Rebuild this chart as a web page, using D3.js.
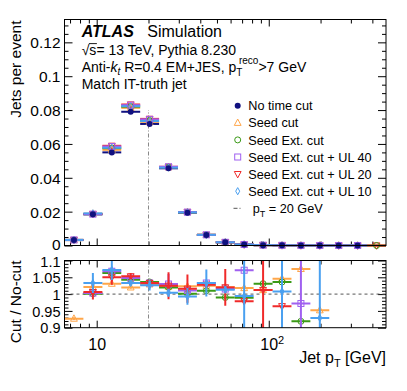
<!DOCTYPE html>
<html lang="en">
<head>
<meta charset="UTF-8">
<title>Jets per event vs jet pT</title>
<script src="https://d3js.org/d3.v7.min.js"></script>
<style>
  body { margin: 0; background: #fff; }
  svg { display: block; font-family: "Liberation Sans", Arial, sans-serif; }
</style>
</head>
<body>
<svg id="chart" width="407" height="391"></svg>
<script>
// bin edges in jet pT [GeV]
const binEdges = [6.5, 8.37, 10.79, 13.89, 17.89, 23.04, 29.68, 38.22, 49.23, 63.41,
                  81.66, 105.2, 135.5, 174.5, 224.7, 289.4, 372.8, 480.1];

const seriesNames = ["No time cut", "Seed cut", "Seed Ext. cut",
                     "Seed Ext. cut + UL 40", "Seed Ext. cut + UL 20", "Seed Ext. cut + UL 10"];

// jets per event, one value per bin
const jetsNoCut   = [0.0032, 0.0184, 0.0550, 0.0790, 0.0718, 0.0456, 0.0194, 0.0062, 0.0019, 0.0006, 0.0002, 0.0001, 0.00005, 0.00002, 0.00001, 0.000005, null];
const jetsSeedCut = [0.0032, 0.0188, 0.0565, 0.0813, 0.0730, 0.0462, 0.0197, 0.0063, 0.0019, 0.0006, 0.0002, 0.0001, 0.00005, 0.00002, 0.00001, 0.000005, null];
const jetsSeedExt = [0.0033, 0.0185, 0.0575, 0.0820, 0.0738, 0.0463, 0.0196, 0.0063, 0.0019, 0.0006, 0.0002, 0.0001, 0.00005, 0.00002, 0.00001, 0.000005, 0.000004];
const jetsUL40    = [0.0033, 0.0185, 0.0585, 0.0829, 0.0745, 0.0465, 0.0197, 0.0063, 0.0019, 0.0006, 0.0002, 0.0001, 0.00005, 0.00002, 0.00001, 0.000005, null];
const jetsUL20    = [0.0033, 0.0186, 0.0589, 0.0833, 0.0748, 0.0465, 0.0198, 0.0063, 0.0019, 0.0006, 0.0002, 0.0001, 0.00005, 0.00002, 0.00001, 0.000005, 0.000004];
const jetsUL10    = [0.0033, 0.0190, 0.0577, 0.0823, 0.0735, 0.0460, 0.0196, 0.0063, 0.0019, 0.0006, 0.0002, 0.0001, 0.00005, 0.00002, 0.00001, 0.000005, null];

// ratio to "No time cut" and its uncertainty
const ratioSeedCut = [0.927, 1.021, 1.031, 1.020, 1.029, 1.022, 1.023, 1.025, 1.021, 1.018, 1.012, 1.046, 1.075, 0.952, null, null, null];
const errSeedCut   = [0.004, 0.004, 0.004, 0.004, 0.004, 0.004, 0.004, 0.004, 0.004, 0.004, 0.004, 0.004, 0.004, 0.004, null, null, null];
const ratioSeedExt = [null, 1.001, 1.063, 1.043, 1.036, 1.020, 1.001, 1.010, 0.990, 0.989, 1.031, 1.036, 0.919, null, null, null, null];
const errSeedExt   = [null, 0.005, 0.005, 0.005, 0.005, 0.005, 0.005, 0.005, 0.005, 0.005, 0.005, 0.005, 0.005, null, null, null, null];
const ratioUL40    = [null, 1.003, 1.068, 1.048, 1.033, 1.030, 1.011, 1.033, 1.015, 1.071, null, null, 0.972, null, null, null, null];
const errUL40      = [null, 0.008, 0.008, 0.006, 0.006, 0.030, 0.010, 0.010, 0.010, 0.010, null, null, 0.300, null, null, null, null];
const ratioUL20    = [null, 1.006, 1.050, 1.053, 1.033, 1.025, 1.016, 1.028, 1.020, 0.979, 1.012, 0.964, null, null, null, null, null];
const errUL20      = [null, 0.022, 0.022, 0.010, 0.008, 0.040, 0.042, 0.010, 0.055, 0.010, 0.300, 0.008, null, null, null, null, null];
const ratioUL10    = [null, 1.033, 1.072, 1.033, 1.026, 1.004, 0.993, 1.033, 1.013, 0.994, null, 1.008, null, 0.929, null, null, null];
const errUL10      = [null, 0.030, 0.030, 0.008, 0.015, 0.012, 0.025, 0.040, 0.010, 0.300, null, 0.300, null, 0.300, null, null, null];

const yTicksMain  = [0, 0.02, 0.04, 0.06, 0.08, 0.1, 0.12];
const yTicksRatio = [0.9, 0.95, 1, 1.05, 1.1];
const xTickLabels = [10, 100];
const xMinorTicks = [7, 8, 9, 20, 30, 40, 50, 60, 70, 80, 90, 200, 300, 400];
const ptCut = 20;

const series = [
  { name: seriesNames[0], values: jetsNoCut,   ratio: null,         err: null,       color: "#10107f", marker: "dot" },
  { name: seriesNames[1], values: jetsSeedCut, ratio: ratioSeedCut, err: errSeedCut, color: "#ffa64a", marker: "triangle" },
  { name: seriesNames[2], values: jetsSeedExt, ratio: ratioSeedExt, err: errSeedExt, color: "#3a9a16", marker: "circle" },
  { name: seriesNames[3], values: jetsUL40,    ratio: ratioUL40,    err: errUL40,    color: "#a060f0", marker: "square" },
  { name: seriesNames[4], values: jetsUL20,    ratio: ratioUL20,    err: errUL20,    color: "#f02a2a", marker: "triangleDown" },
  { name: seriesNames[5], values: jetsUL10,    ratio: ratioUL10,    err: errUL10,    color: "#4aa0f0", marker: "diamond" }
];

const frameL = 64.5, frameR = 386;
const mainTop = 19.5, mainBot = 245.5;
const ratTop = 260.5, ratBot = 327.7;

const svg = d3.select("#chart");
svg.append("rect").attr("width", 407).attr("height", 391).attr("fill", "#fff");

const x = d3.scaleLog()
  .domain([binEdges[0], binEdges[binEdges.length - 1]])
  .range([frameL, frameR]);
const yMain = d3.scaleLinear().domain([0, 0.1335]).range([mainBot, mainTop]);
const yRatio = d3.scaleLinear().domain([0.9, 1.1]).range([ratBot, ratTop]);

const centre = i => Math.sqrt(binEdges[i] * binEdges[i + 1]);

function drawMarker(g, type, cx, cy, color) {
  if (type === "dot") {
    g.append("circle").attr("cx", cx).attr("cy", cy).attr("r", 3).attr("fill", color);
  } else if (type === "circle") {
    g.append("circle").attr("cx", cx).attr("cy", cy).attr("r", 3)
      .attr("fill", "none").attr("stroke", color).attr("stroke-width", 1);
  } else if (type === "square") {
    g.append("rect").attr("x", cx - 3).attr("y", cy - 3).attr("width", 6).attr("height", 6)
      .attr("fill", "none").attr("stroke", color).attr("stroke-width", 1);
  } else {
    let p;
    if (type === "triangle") p = [[cx, cy - 3.8], [cx + 3.4, cy + 2.6], [cx - 3.4, cy + 2.6]];
    else if (type === "triangleDown") p = [[cx, cy + 3.8], [cx + 3.4, cy - 2.6], [cx - 3.4, cy - 2.6]];
    else p = [[cx, cy - 3.6], [cx + 2, cy], [cx, cy + 3.6], [cx - 2, cy]];
    g.append("path").attr("d", "M" + p.join("L") + "Z")
      .attr("fill", "none").attr("stroke", color).attr("stroke-width", 1);
  }
}

// ---------- axes ----------
function styleAxis(sel, fontSize) {
  sel.select(".domain").remove();
  sel.selectAll("line").attr("stroke", "#000").attr("stroke-width", 1);
  sel.attr("font-family", null).attr("font-size", fontSize);
  sel.selectAll("text").attr("fill", "#000");
}

function yAxes(scale, majors, minors, fmt, fontSize, labelShift) {
  const g = svg.append("g");
  g.append("g").attr("transform", `translate(${frameL},0)`)
    .call(d3.axisLeft(scale).tickValues(majors).tickSize(-8).tickPadding(4).tickFormat(fmt))
    .call(s => styleAxis(s, fontSize))
    .call(s => s.selectAll(".tick text").attr("y", labelShift));
  g.append("g").attr("transform", `translate(${frameL},0)`)
    .call(d3.axisLeft(scale).tickValues(minors).tickSize(-4).tickFormat(""))
    .call(s => styleAxis(s, fontSize));
  g.append("g").attr("transform", `translate(${frameR},0)`)
    .call(d3.axisRight(scale).tickValues(majors).tickSize(-8).tickFormat(""))
    .call(s => styleAxis(s, fontSize));
  g.append("g").attr("transform", `translate(${frameR},0)`)
    .call(d3.axisRight(scale).tickValues(minors).tickSize(-4).tickFormat(""))
    .call(s => styleAxis(s, fontSize));
}

function xAxes(y0, y1, withLabels) {
  const g = svg.append("g");
  const bottom = g.append("g").attr("transform", `translate(0,${y1})`)
    .call(d3.axisBottom(x).tickValues(xTickLabels).tickSize(-7).tickPadding(11)
      .tickFormat(d => withLabels ? "10" : ""))
    .call(s => styleAxis(s, 16));
  if (withLabels) {
    bottom.selectAll(".tick text")
      .attr("dx", d => d === 100 ? 3 : 0)
      .filter(d => d === 100)
      .append("tspan").attr("font-size", 11).attr("dy", "-0.55em").text("2");
  }
  g.append("g").attr("transform", `translate(0,${y1})`)
    .call(d3.axisBottom(x).tickValues(xMinorTicks).tickSize(-4).tickFormat(""))
    .call(s => styleAxis(s, 16));
  g.append("g").attr("transform", `translate(0,${y0})`)
    .call(d3.axisTop(x).tickValues(xTickLabels).tickSize(-7).tickFormat(""))
    .call(s => styleAxis(s, 16));
  g.append("g").attr("transform", `translate(0,${y0})`)
    .call(d3.axisTop(x).tickValues(xMinorTicks).tickSize(-4).tickFormat(""))
    .call(s => styleAxis(s, 16));
}

const fmtTick = d => String(+d.toFixed(2));
yAxes(yMain, yTicksMain, d3.range(0, 0.1335, 0.005).filter(v => !yTicksMain.some(t => Math.abs(t - v) < 1e-9)), fmtTick,
  15.5, d => d === 0 ? -1 : 0.5);
yAxes(yRatio, yTicksRatio, d3.range(0.9, 1.1001, 0.01).filter(v => !yTicksRatio.some(t => Math.abs(t - v) < 1e-9)), fmtTick,
  14.5, d => d === 1.1 ? 1.2 : 0.5);
xAxes(mainTop, mainBot, false);
xAxes(ratTop, ratBot, true);

// ---------- main panel ----------
const mainG = svg.append("g");
mainG.append("line")
  .attr("x1", x(ptCut)).attr("x2", x(ptCut))
  .attr("y1", yMain(0)).attr("y2", yMain(0.08))
  .attr("stroke", "#888").attr("stroke-width", 1).attr("stroke-dasharray", "4,2,1,2");

const linesOrder = [0, 1, 2, 4, 3, 5];
const markersOrder = [4, 1, 2, 5, 3, 0];
linesOrder.forEach(k => {
  const s = series[k];
  const pts = s.values.map((v, i) => ({ v, i })).filter(d => d.v != null);
  mainG.append("g").selectAll("line").data(pts).join("line")
    .attr("x1", d => x(binEdges[d.i])).attr("x2", d => x(binEdges[d.i + 1]))
    .attr("y1", d => yMain(d.v)).attr("y2", d => yMain(d.v))
    .attr("stroke", s.color).attr("stroke-width", 2);
});
markersOrder.forEach(k => {
  const s = series[k];
  const g = mainG.append("g");
  s.values.forEach((v, i) => {
    if (v != null) drawMarker(g, s.marker, x(centre(i)), yMain(v), s.color);
  });
});

// ---------- ratio panel ----------
svg.append("clipPath").attr("id", "ratioClip").append("rect")
  .attr("x", frameL).attr("y", ratTop).attr("width", frameR - frameL).attr("height", ratBot - ratTop);
const ratG = svg.append("g").attr("clip-path", "url(#ratioClip)");
ratG.append("line")
  .attr("x1", frameL).attr("x2", frameR).attr("y1", yRatio(1)).attr("y2", yRatio(1))
  .attr("stroke", "#555").attr("stroke-width", 1).attr("stroke-dasharray", "3,3");
ratG.append("line")
  .attr("x1", x(ptCut)).attr("x2", x(ptCut)).attr("y1", ratTop).attr("y2", ratBot)
  .attr("stroke", "#888").attr("stroke-width", 1).attr("stroke-dasharray", "4,2,1,2");

series.slice(1).forEach(s => {
  const g = ratG.append("g");
  const pts = s.ratio.map((v, i) => ({ v, e: s.err[i], i })).filter(d => d.v != null);
  g.selectAll("line.h").data(pts).join("line").attr("class", "h")
    .attr("x1", d => x(binEdges[d.i])).attr("x2", d => x(binEdges[d.i + 1]))
    .attr("y1", d => yRatio(d.v)).attr("y2", d => yRatio(d.v))
    .attr("stroke", s.color).attr("stroke-width", 2);
  g.selectAll("line.v").data(pts).join("line").attr("class", "v")
    .attr("x1", d => x(centre(d.i))).attr("x2", d => x(centre(d.i)))
    .attr("y1", d => yRatio(d.v - d.e)).attr("y2", d => yRatio(d.v + d.e))
    .attr("stroke", s.color).attr("stroke-width", 2);
  pts.forEach(d => drawMarker(g, s.marker, x(centre(d.i)), yRatio(d.v), s.color));
});

// frames
[[mainTop, mainBot], [ratTop, ratBot]].forEach(([a, b]) => {
  svg.append("rect").attr("x", frameL).attr("y", a)
    .attr("width", frameR - frameL).attr("height", b - a)
    .attr("fill", "none").attr("stroke", "#000").attr("stroke-width", 1);
});

// ---------- titles ----------
svg.append("text").attr("transform", `translate(21,${mainTop + 1}) rotate(-90)`)
  .attr("text-anchor", "end").attr("font-size", 15.5).text("Jets per event");
svg.append("text").attr("transform", `translate(21,${ratTop}) rotate(-90)`)
  .attr("text-anchor", "end").attr("font-size", 15.5).text("Cut / No-cut");

const xTitle = svg.append("text").attr("x", frameR).attr("y", 363)
  .attr("text-anchor", "end").attr("font-size", 16);
xTitle.append("tspan").text("Jet p");
xTitle.append("tspan").attr("font-size", 11).attr("dy", 4).text("T");
xTitle.append("tspan").attr("dy", -4).text(" [GeV]");

// ---------- ATLAS label ----------
const hx = 81.7;
const l1 = svg.append("text").attr("x", hx).attr("y", 37.3).attr("font-size", 16);
l1.append("tspan").attr("font-weight", "bold").attr("font-style", "italic").text("ATLAS");
l1.append("tspan").attr("x", 147.3).text("Simulation");

const l2 = svg.append("text").attr("x", hx).attr("y", 55).attr("font-size", 14);
l2.append("tspan").text("\u221As");
l2.append("tspan").text("= 13 TeV, Pythia 8.230");
const sqrtW = l2.node().getSubStringLength(0, 2);
const rootW = l2.node().getSubStringLength(0, 1);
svg.append("line").attr("x1", hx + rootW - 0.5).attr("x2", hx + sqrtW + 0.5)
  .attr("y1", 43.6).attr("y2", 43.6).attr("stroke", "#000").attr("stroke-width", 0.9);

const l3 = svg.append("text").attr("x", hx).attr("y", 71.7).attr("font-size", 14);
l3.append("tspan").text("Anti-");
l3.append("tspan").attr("font-style", "italic").text("k");
l3.append("tspan").attr("font-style", "italic").attr("font-size", 10).attr("dy", 3).text("t");
l3.append("tspan").attr("dy", -3).text(" R=0.4 EM+JES, p");
l3.append("tspan").attr("font-size", 10).attr("dy", 4).text("T");
l3.append("tspan").attr("font-size", 10).attr("dx", -3).attr("dy", -12).text("reco");
l3.append("tspan").attr("dy", 8).text(">7 GeV");

svg.append("text").attr("x", hx).attr("y", 89.3).attr("font-size", 14).text("Match IT-truth jet");

// ---------- legend ----------
const legX = 237.7, legTextX = 248.3, legY0 = 105.7, legDy = 17.1;
series.forEach((s, k) => {
  const cy = legY0 + k * legDy;
  drawMarker(svg.append("g"), s.marker, legX, cy, s.color);
  svg.append("text").attr("x", legTextX).attr("y", cy + 4.6).attr("font-size", 12.7).text(s.name);
});
const ptY = legY0 + 6 * legDy;
svg.append("line").attr("x1", 233.5).attr("x2", 242).attr("y1", ptY).attr("y2", ptY)
  .attr("stroke", "#555").attr("stroke-width", 1).attr("stroke-dasharray", "4,2,1,2");
const ptText = svg.append("text").attr("x", 252.7).attr("y", ptY + 4.6).attr("font-size", 12.7);
ptText.append("tspan").text("p");
ptText.append("tspan").attr("font-size", 9).attr("dy", 4).text("T");
ptText.append("tspan").attr("dy", -4).text(" = 20 GeV");
</script>
</body>
</html>
